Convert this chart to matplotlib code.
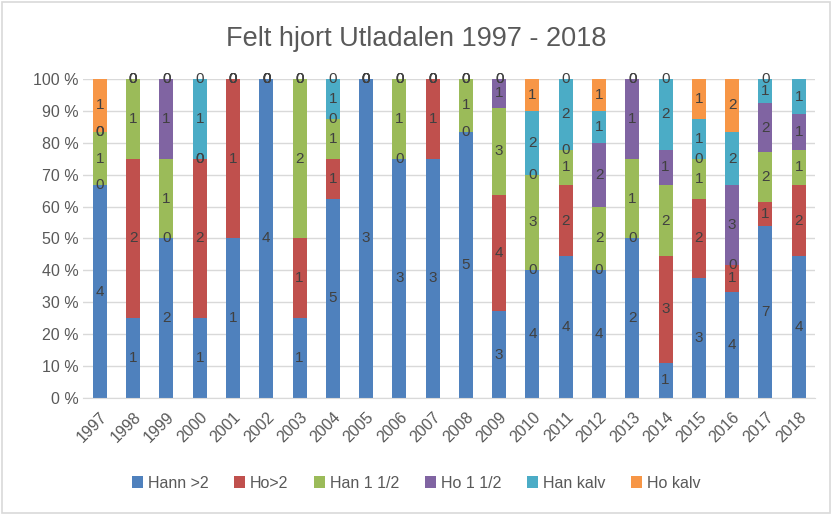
import numpy as np
import matplotlib
matplotlib.use("Agg")
import matplotlib.pyplot as plt
from matplotlib.patches import Rectangle

plt.rcParams["font.family"] = ["Liberation Sans", "DejaVu Sans"]

years = [str(y) for y in range(1997, 2019)]
series = ["Hann >2", "Ho>2", "Han 1 1/2", "Ho 1 1/2", "Han kalv", "Ho kalv"]
colors = ["#4F81BD", "#C0504D", "#9BBB59", "#8064A2", "#4BACC6", "#F79646"]

# antall per år (None = tom celle)
hann_gt2 = [4, 1, 2, 1, 1, 4, 1, 5, 3, 3, 3, 5, 3, 4, 4, 4, 2, 1, 3, 4, 7, 4]
ho_gt2 = [0, 2, 0, 2, 1, 0, 1, 1, 0, 0, 1, 0, 4, 0, 2, 0, 0, 3, 2, 1, 1, 2]
han_15 = [1, 1, 1, 0, 0, 0, 2, 1, 0, 1, 0, 1, 3, 3, 1, 2, 1, 2, 1, 0, 2, 1]
ho_15 = [0, 0, 1, 0, 0, 0, 0, 0, 0, 0, 0, 0, 1, 0, 0, 2, 1, 1, 0, 3, 2, 1]
han_kalv = [0, 0, 0, 1, 0, 0, 0, 1, 0, 0, 0, 0, 0, 2, 2, 1, 0, 2, 1, 2, 1, 1]
ho_kalv = [1, 0, 0, 0, 0, 0, 0, 0, 0, 0, 0, 0, 0, 1, 0, 1, 0, 0, 1, 2, 0, None]

data = [hann_gt2, ho_gt2, han_15, ho_15, han_kalv, ho_kalv]

counts = np.array([[np.nan if v is None else v for v in s] for s in data], dtype=float)
totals = np.nansum(counts, axis=0)
pct = counts / totals * 100

fig = plt.figure(figsize=(8.32, 5.15), dpi=100)
ax = fig.add_axes([0.1, 0.227, 0.88, 0.62])

x = np.arange(len(years))
bottom = np.zeros(len(years))
for i, name in enumerate(series):
    h = np.nan_to_num(pct[i])
    ax.bar(x, h, 0.42, bottom=bottom, color=colors[i], label=name, zorder=2)
    for j in range(len(years)):
        if np.isnan(counts[i, j]):
            continue
        ax.text(x[j], bottom[j] + h[j] / 2, f"{int(counts[i, j])}",
                ha="center", va="center", fontsize=11, color="#404040", zorder=3)
    bottom += h

ax.set_xlim(-0.5, len(years) - 0.5)
ax.set_ylim(0, 100)
ax.set_yticks(range(0, 101, 10))
ax.set_yticklabels([f"{v} %" for v in range(0, 101, 10)])
ax.set_xticks(x)
ax.set_xticklabels(years, rotation=45, ha="right", rotation_mode="anchor")
ax.tick_params(axis="both", length=0, labelsize=11.5, colors="#595959")
ax.tick_params(axis="x", pad=8)
ax.yaxis.grid(True, color="#D9D9D9", linewidth=1, zorder=0)
for s in ["top", "right", "left"]:
    ax.spines[s].set_visible(False)
ax.spines["bottom"].set_color("#D9D9D9")

fig.text(0.5, 0.925, "Felt hjort Utladalen 1997 - 2018", ha="center", va="center",
         fontsize=19.5, color="#595959")

fig.legend(loc="center", bbox_to_anchor=(0.5, 0.062), ncol=6, frameon=False,
           fontsize=11.5, handlelength=0.7, handleheight=0.7, handletextpad=0.3,
           columnspacing=1.6, labelcolor="#595959")

fig.patches.append(Rectangle((0.002, 0.003), 0.995, 0.993, transform=fig.transFigure,
                             fill=False, edgecolor="#D9D9D9", linewidth=1.2))

fig.savefig("out.png", dpi=100)
